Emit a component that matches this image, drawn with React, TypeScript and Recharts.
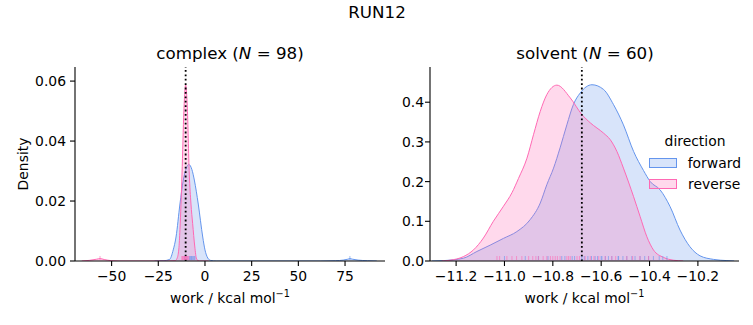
import {
  ComposedChart,
  Area,
  Scatter,
  XAxis,
  YAxis,
  ReferenceLine,
  Legend,
  Label,
} from 'recharts'

const FONT = '"DejaVu Sans", sans-serif'
const BLUE = '#6495ed'
const PINK = '#ff69b4'

// complex leg, KDE
const complexFwdX = [-27, -22, -19, -17, -15.5, -13.4, -11.6, -10, -8.7, -7, -5.7, -3.6, -1.2, 0, 1.5, 3, 6, 62, 70, 74, 76.5, 77.6, 79, 82, 87, 92]
const complexFwdY = [0, 0.0001, 0.0005, 0.0037, 0.008, 0.019, 0.027, 0.031, 0.0322, 0.0305, 0.027, 0.019, 0.008, 0.0037, 0.001, 0.0002, 0, 0, 0.0001, 0.0003, 0.0006, 0.0008, 0.0006, 0.0003, 0.0001, 0]
const complexRevX = [-66, -62, -58, -56.2, -54, -50, -46, -20, -16, -15, -14, -13.4, -12.3, -11.3, -10.35, -9.5, -8.4, -7.5, -6.6, -5.5, -4.4, -3, 2]
const complexRevY = [0, 0.0002, 0.0006, 0.0008, 0.0005, 0.0001, 0, 0, 0.0001, 0.0008, 0.004, 0.0105, 0.029, 0.05, 0.0587, 0.052, 0.029, 0.019, 0.0125, 0.005, 0.0005, 0, 0]
const complexFwdRug = [-11, -9.6, -8.4, -8, -7.6, -7.2, -6.8, -6.3, -5.8, -5.4, 77.6]
const complexRevRug = [-56.2, -12.4, -12, -11.6, -11.2, -10.9, -10.6, -10.4, -10.1, -9.8, -9.4, -9, -8.6]
const complexMean = -10.35

// solvent leg
const solventFwdX = [-11.3, -11.252, -11.17, -11.114, -11.059, -11.004, -10.949, -10.894, -10.852, -10.825, -10.797, -10.77, -10.742, -10.715, -10.687, -10.638, -10.59, -10.549, -10.508, -10.466, -10.425, -10.397, -10.356, -10.315, -10.274, -10.233, -10.191, -10.135, -10.08, -10.05]
const solventFwdY = [0, 0.001, 0.007, 0.024, 0.04, 0.057, 0.074, 0.104, 0.146, 0.192, 0.234, 0.285, 0.343, 0.394, 0.423, 0.444, 0.432, 0.394, 0.343, 0.276, 0.228, 0.2, 0.179, 0.137, 0.078, 0.036, 0.013, 0.004, 0.001, 0]
const solventRevX = [-11.26, -11.225, -11.17, -11.128, -11.087, -11.046, -11.004, -10.969, -10.942, -10.907, -10.88, -10.852, -10.825, -10.783, -10.728, -10.68, -10.645, -10.59, -10.563, -10.535, -10.508, -10.466, -10.439, -10.411, -10.384, -10.342, -10.301, -10.261]
const solventRevY = [0, 0.002, 0.011, 0.028, 0.058, 0.1, 0.138, 0.172, 0.208, 0.259, 0.318, 0.377, 0.419, 0.443, 0.411, 0.369, 0.348, 0.322, 0.306, 0.276, 0.234, 0.162, 0.112, 0.061, 0.028, 0.009, 0.002, 0]
const solventFwdRug = [-11.0, -10.914, -10.86, -10.82, -10.763, -10.75, -10.72, -10.71, -10.68, -10.67, -10.655, -10.64, -10.625, -10.615, -10.6, -10.597, -10.583, -10.57, -10.556, -10.53, -10.528, -10.51, -10.494, -10.473, -10.46, -10.439, -10.42, -10.404, -10.384, -10.36, -10.345, -10.328]
const solventRevRug = [-11.031, -11.02, -10.99, -10.969, -10.95, -10.928, -10.9, -10.883, -10.87, -10.859, -10.84, -10.825, -10.81, -10.8, -10.79, -10.781, -10.77, -10.742, -10.735, -10.728, -10.7, -10.69, -10.666, -10.645, -10.63, -10.61, -10.583, -10.556, -10.54, -10.494, -10.47, -10.44, -10.404]
const solventMean = -10.68

const complexXTicks = [-50, -25, 0, 25, 50, 75]
const complexYTicks = [0, 0.02, 0.04, 0.06]
const solventXTicks = [-11.2, -11.0, -10.8, -10.6, -10.4, -10.2]
const solventYTicks = [0, 0.1, 0.2, 0.3, 0.4]

const zip = (xs: number[], ys: number[]) => xs.map((x, i) => ({ x, y: ys[i] }))
const rug = (xs: number[]) => xs.map((x) => ({ x, y: 0 }))
const fmt = (d: number) => (v: number) => v.toFixed(d).replace('-', '\u2212')

const tickStyle = { fontSize: 13.9, fill: '#000', fontFamily: FONT }

const rugTick = (color: string) => (p: any) => (
  <line x1={p.cx} x2={p.cx} y1={p.cy - 1} y2={p.cy - 5} stroke={color} strokeWidth={1} strokeOpacity={0.6} />
)

const WorkLabel = (p: any) => {
  const vb = p.viewBox
  return (
    <text x={vb.x + vb.width / 2} y={vb.y + 42} textAnchor="middle" fontSize={13.9} fontFamily={FONT} fill="#000">
      work / kcal mol
      <tspan dy={-6} fontSize={9.7}>{'\u22121'}</tspan>
    </text>
  )
}

const DensityLabel = (p: any) => {
  const vb = p.viewBox
  const x = vb.x + 8
  const y = vb.y + vb.height / 2
  return (
    <text x={x} y={y} transform={`rotate(-90 ${x} ${y})`} textAnchor="middle" dominantBaseline="central" fontSize={13.9} fontFamily={FONT} fill="#000">
      Density
    </text>
  )
}

const LegendBox = ({ payload }: any) => (
  <div style={{ fontFamily: FONT, fontSize: 13.9, color: '#000', width: 92 }}>
    <div style={{ height: 16, lineHeight: '16px', textAlign: 'center', marginBottom: 3 }}>direction</div>
    {(payload || [])
      .filter((e: any) => e.type !== 'none')
      .map((e: any) => (
        <div key={e.value} style={{ height: 21, display: 'flex', alignItems: 'center' }}>
          <div
            style={{
              width: 28,
              height: 10,
              boxSizing: 'border-box',
              border: `1px solid ${e.color}`,
              background: e.color === BLUE ? 'rgba(100,149,237,0.25)' : 'rgba(255,105,180,0.25)',
              marginRight: 11,
            }}
          />
          <span style={{ lineHeight: '16px' }}>{e.value}</span>
        </div>
      ))}
  </div>
)

interface PanelProps {
  width: number
  margin: { top: number; right: number; bottom: number; left: number }
  yWidth: number
  tickMargin: number
  fwd: { x: number; y: number }[]
  rev: { x: number; y: number }[]
  fwdRug: { x: number; y: number }[]
  revRug: { x: number; y: number }[]
  xDomain: [number, number]
  yDomain: [number, number]
  xTicks: number[]
  yTicks: number[]
  xFmt: (v: number) => string
  yFmt: (v: number) => string
  mean: number
  density?: boolean
  legend?: boolean
}

function KdePanel(p: PanelProps) {
  return (
    <ComposedChart width={p.width} height={325} margin={p.margin}>
      <XAxis
        type="number"
        dataKey="x"
        domain={p.xDomain}
        allowDataOverflow
        ticks={p.xTicks}
        interval={0}
        tickFormatter={p.xFmt}
        tick={tickStyle}
        tickSize={5}
        tickMargin={5}
        height={40}
        axisLine={{ stroke: '#000', strokeWidth: 1.1 }}
        tickLine={{ stroke: '#000', strokeWidth: 1.1 }}
      >
        <Label content={WorkLabel} />
      </XAxis>
      <YAxis
        type="number"
        dataKey="y"
        domain={p.yDomain}
        allowDataOverflow
        ticks={p.yTicks}
        interval={0}
        tickFormatter={p.yFmt}
        tick={tickStyle}
        tickSize={5}
        tickMargin={p.tickMargin}
        width={p.yWidth}
        axisLine={{ stroke: '#000', strokeWidth: 1.1 }}
        tickLine={{ stroke: '#000', strokeWidth: 1.1 }}
      >
        {p.density ? <Label content={DensityLabel} /> : null}
      </YAxis>
      <Area
        data={p.fwd}
        dataKey="y"
        name="forward"
        type="monotone"
        stroke={BLUE}
        strokeWidth={1}
        fill={BLUE}
        fillOpacity={0.25}
        isAnimationActive={false}
        dot={false}
        activeDot={false}
      />
      <Area
        data={p.rev}
        dataKey="y"
        name="reverse"
        type="monotone"
        stroke={PINK}
        strokeWidth={1}
        fill={PINK}
        fillOpacity={0.25}
        isAnimationActive={false}
        dot={false}
        activeDot={false}
      />
      <Scatter data={p.fwdRug} dataKey="y" legendType="none" shape={rugTick(BLUE)} isAnimationActive={false} />
      <Scatter data={p.revRug} dataKey="y" legendType="none" shape={rugTick(PINK)} isAnimationActive={false} />
      <ReferenceLine x={p.mean} stroke="#000" strokeWidth={1.8} strokeDasharray="1.8 2.6" />
      {p.legend ? (
        <Legend
          layout="vertical"
          align="center"
          verticalAlign="middle"
          content={LegendBox}
          wrapperStyle={{ left: 249, top: 133, width: 92 }}
        />
      ) : null}
    </ComposedChart>
  )
}

const titleStyle = {
  position: 'absolute' as const,
  fontFamily: FONT,
  fontSize: 16.7,
  lineHeight: '17px',
  color: '#000',
  textAlign: 'center' as const,
  whiteSpace: 'nowrap' as const,
}

export default function App() {
  return (
    <div style={{ position: 'absolute', left: 0, top: 0, width: 753, height: 325, background: '#fff' }}>
      <div style={{ ...titleStyle, left: 277, width: 200, top: 4 }}>RUN12</div>
      <div style={{ ...titleStyle, left: 130, width: 200, top: 45 }}>
        complex (<i>N</i> = 98)
      </div>
      <div style={{ ...titleStyle, left: 485, width: 200, top: 45 }}>
        solvent (<i>N</i> = 60)
      </div>
      <div style={{ position: 'absolute', left: 0, top: 0 }}>
        <KdePanel
          width={400}
          margin={{ top: 67, right: 15, bottom: 24, left: 15 }}
          yWidth={60}
          tickMargin={4}
          fwd={zip(complexFwdX, complexFwdY)}
          rev={zip(complexRevX, complexRevY)}
          fwdRug={rug(complexFwdRug)}
          revRug={rug(complexRevRug)}
          xDomain={[-69.6, 96.4]}
          yDomain={[0, 0.0647]}
          xTicks={complexXTicks}
          yTicks={complexYTicks}
          xFmt={fmt(0)}
          yFmt={fmt(2)}
          mean={complexMean}
          density
        />
      </div>
      <div style={{ position: 'absolute', left: 400, top: 0 }}>
        <KdePanel
          width={353}
          margin={{ top: 67, right: 14, bottom: 24, left: 0 }}
          yWidth={30}
          tickMargin={1}
          fwd={zip(solventFwdX, solventFwdY)}
          rev={zip(solventRevX, solventRevY)}
          fwdRug={rug(solventFwdRug)}
          revRug={rug(solventRevRug)}
          xDomain={[-11.308, -10.03]}
          yDomain={[0, 0.4887]}
          xTicks={solventXTicks}
          yTicks={solventYTicks}
          xFmt={fmt(1)}
          yFmt={fmt(1)}
          mean={solventMean}
          legend
        />
      </div>
    </div>
  )
}
